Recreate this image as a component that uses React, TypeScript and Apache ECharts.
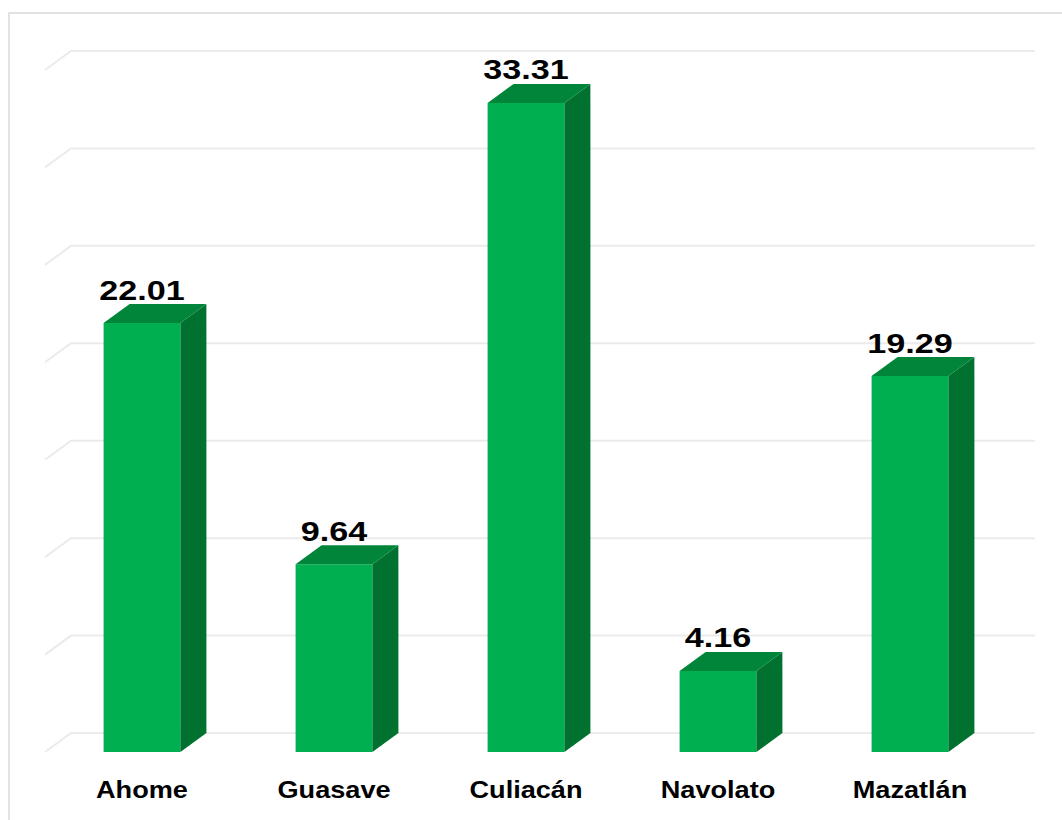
import React, { useEffect, useRef } from "react";
import * as echarts from "echarts";

const categories = ["Ahome", "Guasave", "Culiacán", "Navolato", "Mazatlán"];
const values = [22.01, 9.64, 33.31, 4.16, 19.29];
const gridTicks = [0, 5, 10, 15, 20, 25, 30, 35];

const DX = 26;
const DY = -19;
const FONT = "'Liberation Sans', Arial, sans-serif";

export default function App() {
  const ref = useRef<HTMLDivElement>(null);
  useEffect(() => {
    const chart = echarts.init(ref.current!, null, { renderer: "svg" });
    chart.setOption({
      animation: false,
      backgroundColor: "#ffffff",
      graphic: [
        {
          type: "rect",
          shape: { x: 9, y: 13, width: 1200, height: 900 },
          style: { fill: "none", stroke: "#D9D9D9", lineWidth: 1.5 },
          z: -10,
        },
      ],
      grid: { left: 46, right: 56, top: 70, bottom: 68 },
      xAxis: {
        type: "category",
        data: categories,
        axisLine: { show: false },
        axisTick: { show: false },
        axisLabel: { show: false },
      },
      yAxis: {
        type: "value",
        min: 0,
        max: 35,
        interval: 5,
        axisLabel: { show: false },
        axisLine: { show: false },
        axisTick: { show: false },
        splitLine: { show: false },
      },
      series: [
        {
          type: "custom",
          z: 1,
          data: gridTicks.map((t) => [0, t]),
          renderItem: (params: any, api: any) => {
            const cs = params.coordSys;
            const y = api.coord([0, api.value(1)])[1];
            const x0 = cs.x - 1;
            const x1 = cs.x + cs.width + DX + 3;
            return {
              type: "polyline",
              shape: {
                points: [
                  [x0, y],
                  [x0 + DX, y + DY],
                  [x1, y + DY],
                ],
              },
              style: { stroke: "#EBEBEB", lineWidth: 2, fill: "none" },
            };
          },
        },
        {
          type: "custom",
          z: 2,
          data: values.map((v, i) => [i, v]),
          renderItem: (params: any, api: any) => {
            const idx = api.value(0);
            const v = api.value(1);
            const base = api.coord([idx, 0]);
            const top = api.coord([idx, v]);
            const bw = api.size([1, 0])[0] * 0.4;
            const cx = base[0];
            const l = cx - bw / 2;
            const r = cx + bw / 2;
            const ty = top[1];
            const by = base[1];
            return {
              type: "group",
              children: [
                {
                  type: "rect",
                  shape: { x: l, y: ty, width: bw, height: by - ty },
                  style: { fill: "#00B050" },
                },
                {
                  type: "polygon",
                  shape: {
                    points: [
                      [r, ty],
                      [r + DX, ty + DY],
                      [r + DX, by + DY],
                      [r, by],
                    ],
                  },
                  style: { fill: "#00712F" },
                },
                {
                  type: "polygon",
                  shape: {
                    points: [
                      [l, ty],
                      [l + DX, ty + DY],
                      [r + DX, ty + DY],
                      [r, ty],
                    ],
                  },
                  style: { fill: "#00853A" },
                },
                {
                  type: "text",
                  x: cx,
                  y: ty - 33,
                  scaleX: 1.22,
                  style: {
                    text: v.toFixed(2),
                    align: "center",
                    verticalAlign: "middle",
                    fill: "#000",
                    font: "bold 28px " + FONT,
                  },
                },
                {
                  type: "text",
                  x: cx,
                  y: by + 38,
                  scaleX: 1.18,
                  style: {
                    text: categories[idx],
                    align: "center",
                    verticalAlign: "middle",
                    fill: "#000",
                    font: "bold 23px " + FONT,
                  },
                },
              ],
            };
          },
        },
      ],
    });
    return () => chart.dispose();
  }, []);
  return (
    <div
      ref={ref}
      style={{ position: "absolute", left: 0, top: 0, width: 1062, height: 820 }}
    />
  );
}
